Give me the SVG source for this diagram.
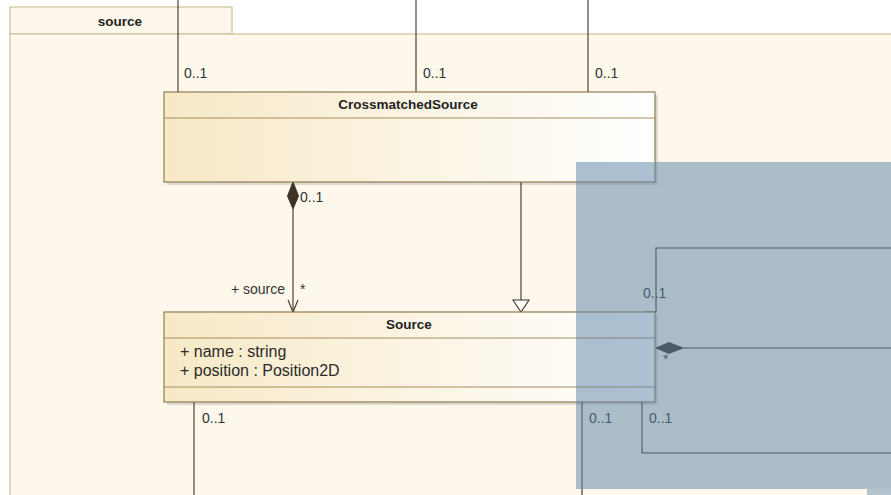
<svg xmlns="http://www.w3.org/2000/svg" width="891" height="495" viewBox="0 0 891 495">
<defs>
<linearGradient id="cg" x1="0" y1="0" x2="1" y2="0">
<stop offset="0" stop-color="#f7e9c6"/>
<stop offset="1" stop-color="#ffffff"/>
</linearGradient>
</defs>
<style>
.pkg{fill:#fdf8eb;stroke:#c9b48a;stroke-width:1}
.cls{fill:url(#cg);stroke:#8f7c55;stroke-width:1.2}
.div{stroke:#a48f63;stroke-width:1}
.ln{fill:none;stroke:#3d3325;stroke-width:1.1}
.t{font-family:"Liberation Sans",Arial,sans-serif;font-size:14px;fill:#333}
.a{font-family:"Liberation Sans",Arial,sans-serif;font-size:16px;fill:#2a2a2a}
.b{font-family:"Liberation Sans",Arial,sans-serif;font-size:13.5px;font-weight:bold;fill:#222}
.sh{fill:#000;opacity:0.12}
</style>
<rect width="891" height="495" fill="#ffffff"/>
<g id="package-source">
<rect class="pkg" x="10" y="7" width="222" height="27"/>
<rect class="pkg" x="10" y="34" width="890" height="470"/>
<text class="b" x="120" y="26" text-anchor="middle" font-size="13">source</text>
</g>
<g id="connectors">
<line class="ln" x1="178" y1="0" x2="178" y2="92"/>
<line class="ln" x1="416" y1="0" x2="416" y2="92"/>
<line class="ln" x1="588" y1="0" x2="588" y2="92"/>
<text class="t" x="184" y="78">0..1</text>
<text class="t" x="423" y="78">0..1</text>
<text class="t" x="595" y="78">0..1</text>
<line class="ln" x1="293" y1="209" x2="293" y2="312"/>
<path class="ln" d="M288,300 L293,312 L298,300"/>
<path d="M293,182 L298.5,196 L293,209 L287.5,196 Z" fill="#3d3325" stroke="#3d3325"/>
<text class="t" x="300" y="202">0..1</text>
<text class="t" x="285" y="294" text-anchor="end">+ source</text>
<text class="t" x="300" y="294">*</text>
<line class="ln" x1="521" y1="182" x2="521" y2="300"/>
<path d="M513,300 L529,300 L521,312 Z" fill="#ffffff" stroke="#3d3325" stroke-width="1.1"/>
<path class="ln" d="M645,312 L656,312 L656,248 L891,248"/>
<text class="t" x="643" y="298">0..1</text>
<path d="M656,348 L669,342.5 L683,348 L669,353.5 Z" fill="#3d3325" stroke="#3d3325"/>
<line class="ln" x1="683" y1="348" x2="891" y2="348"/>
<text class="t" x="663" y="364">*</text>
<line class="ln" x1="194" y1="402" x2="194" y2="495"/>
<text class="t" x="202" y="423">0..1</text>
<line class="ln" x1="582" y1="402" x2="582" y2="495"/>
<text class="t" x="589" y="423">0..1</text>
<path class="ln" d="M642,402 L642,453 L891,453"/>
<text class="t" x="649" y="423">0..1</text>
</g>
<g id="class-CrossmatchedSource">
<rect class="sh" x="167" y="95" width="491" height="90"/>
<rect class="cls" x="164" y="92" width="491" height="90"/>
<line class="div" x1="164" y1="118" x2="655" y2="118"/>
<text class="b" x="408" y="109" text-anchor="middle">CrossmatchedSource</text>
</g>
<g id="class-Source">
<rect class="sh" x="167" y="315" width="491" height="90"/>
<rect class="cls" x="164" y="312" width="491" height="90"/>
<line class="div" x1="164" y1="338" x2="655" y2="338"/>
<line class="div" x1="164" y1="387" x2="655" y2="387"/>
<text class="b" x="409" y="329" text-anchor="middle">Source</text>
<text class="a" x="180" y="357">+ name : string</text>
<text class="a" x="180" y="376">+ position : Position2D</text>
</g>
<g id="overlay">
<rect x="576" y="162" width="320" height="327" fill="#5a82a8" opacity="0.5"/>
<rect x="867" y="489" width="30" height="8" fill="#5a82a8" opacity="0.45"/>
</g>
</svg>
